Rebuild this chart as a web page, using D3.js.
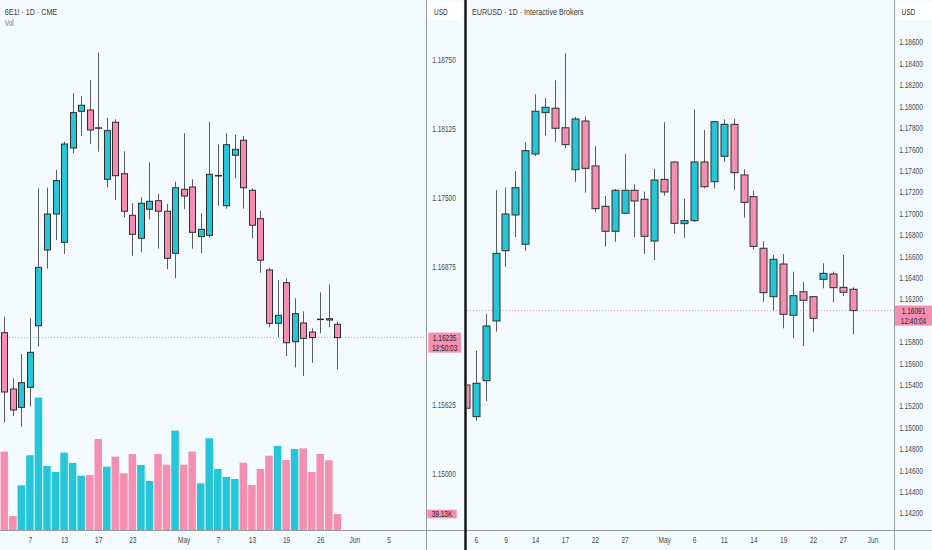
<!DOCTYPE html>
<html>
<head>
<meta charset="utf-8">
<script src="https://cdn.jsdelivr.net/npm/d3@7"></script>
<style>
  html, body { margin: 0; padding: 0; background: #f4fbfe; }
  svg { display: block; font-family: "Liberation Sans", Arial, sans-serif; }
</style>
</head>
<body>
<script>
// ---- 6E1! · 1D · CME (left) ----
const leftOpen  = [1.16280, 1.15770, 1.15604, 1.15785, 1.16343, 1.17029, 1.17355, 1.17099, 1.17953, 1.18285,
                   1.18297, 1.18136, 1.17669, 1.18186, 1.17720, 1.17343, 1.17135, 1.17398, 1.17476, 1.17380,
                   1.16999, 1.17579, 1.17600, 1.17150, 1.17162, 1.17700, 1.17430, 1.17887, 1.18023, 1.17570,
                   1.17313, 1.16848, 1.16365, 1.16733, 1.16198, 1.16368, 1.16286, 1.16403, 1.16407, 1.16356];
const leftHigh  = [1.16425, 1.15867, 1.16087, 1.16410, 1.17588, 1.17593, 1.17754, 1.18010, 1.18448, 1.18424,
                   1.18569, 1.18816, 1.18225, 1.18213, 1.17923, 1.17452, 1.17506, 1.17823, 1.17539, 1.17446,
                   1.17648, 1.18086, 1.17669, 1.17361, 1.18191, 1.17986, 1.18086, 1.18073, 1.18062, 1.17588,
                   1.17385, 1.16869, 1.16757, 1.16773, 1.16591, 1.16474, 1.16320, 1.16646, 1.16718, 1.16380];
const leftLow   = [1.15465, 1.15525, 1.15428, 1.15610, 1.16153, 1.16860, 1.17120, 1.16993, 1.17905, 1.18062,
                   1.17989, 1.17919, 1.17597, 1.17482, 1.17325, 1.16977, 1.17008, 1.17307, 1.17041, 1.16854,
                   1.16773, 1.17398, 1.17041, 1.16999, 1.17140, 1.17430, 1.17403, 1.17678, 1.17403, 1.17135,
                   1.16823, 1.16329, 1.16238, 1.16069, 1.15966, 1.15888, 1.16008, 1.16274, 1.16329, 1.15948];
const leftClose = [1.15743, 1.15580, 1.15827, 1.16102, 1.16872, 1.17355, 1.17657, 1.17989, 1.18273, 1.18340,
                   1.18116, 1.18132, 1.18110, 1.17702, 1.17380, 1.17171, 1.17452, 1.17470, 1.17380, 1.16954,
                   1.17593, 1.17518, 1.17189, 1.17216, 1.17715, 1.17704, 1.17983, 1.17941, 1.17593, 1.17253,
                   1.16936, 1.16365, 1.16437, 1.16189, 1.16452, 1.16229, 1.16235, 1.16399, 1.16395, 1.16235];
// volume in thousands of contracts
const leftVolume = [191.5, 34.2, 109.3, 182.7, 323.6, 156.5, 141.9, 189.1, 163.9, 132.8,
                    134.5, 222.6, 154.8, 179.3, 138.7, 185.9, 159.0, 119.9, 185.9, 159.7,
                    242.9, 159.7, 191.5, 114.2, 224.3, 149.2, 129.6, 124.7, 164.6, 110.1,
                    149.2, 181.7, 205.5, 171.2, 198.1, 199.8, 141.9, 185.9, 170.5, 39.13];
const leftTimeTicks  = [3, 7, 11, 15, 21, 25, 29, 33, 37, 41, 45];
const leftTimeLabels = ['7', '13', '17', '23', 'May', '7', '13', '19', '26', 'Jun', '5'];
const leftPriceTicks = [1.15000, 1.15625, 1.16875, 1.17500, 1.18125, 1.18750];
const leftLast = { price: '1.16235', timer: '12:50:03', volume: '39.13K' };

// ---- EURUSD · 1D · Interactive Brokers (right) ----
const rightOpen  = [1.15396, 1.15100, 1.15436, 1.15994, 1.16650, 1.16984, 1.16710, 1.17554, 1.17940, 1.17981,
                    1.17799, 1.17407, 1.17862, 1.17442, 1.17065, 1.16832, 1.17000, 1.17215, 1.17131, 1.16741,
                    1.17317, 1.17479, 1.16903, 1.16931, 1.17479, 1.17295, 1.17532, 1.17831, 1.17358, 1.17155,
                    1.16673, 1.16221, 1.16526, 1.16047, 1.16267, 1.16221, 1.16383, 1.16433, 1.16308, 1.16290];
const rightHigh  = [1.15442, 1.15716, 1.16056, 1.17217, 1.17239, 1.17395, 1.17663, 1.18111, 1.18077, 1.18242,
                    1.18494, 1.17902, 1.17906, 1.17628, 1.17161, 1.17227, 1.17551, 1.17271, 1.17202, 1.17414,
                    1.17850, 1.17486, 1.17136, 1.17969, 1.17778, 1.17865, 1.17878, 1.17881, 1.17411, 1.17211,
                    1.16738, 1.16610, 1.16620, 1.16454, 1.16358, 1.16227, 1.16533, 1.16454, 1.16610, 1.16308];
const rightLow   = [1.15143, 1.15062, 1.15246, 1.15894, 1.16501, 1.16776, 1.16650, 1.17535, 1.17725, 1.17669,
                    1.17607, 1.17295, 1.17192, 1.17012, 1.16688, 1.16734, 1.16993, 1.16776, 1.16620, 1.16563,
                    1.17164, 1.16813, 1.16772, 1.16918, 1.17233, 1.17230, 1.17482, 1.17217, 1.16959, 1.16663,
                    1.16174, 1.16090, 1.15925, 1.15832, 1.15760, 1.15888, 1.16299, 1.16168, 1.16227, 1.15869];
const rightClose = [1.15178, 1.15412, 1.15947, 1.16626, 1.16993, 1.17239, 1.17585, 1.17953, 1.17990, 1.17794,
                    1.17641, 1.17881, 1.17420, 1.17043, 1.16832, 1.17215, 1.17215, 1.17115, 1.16785, 1.17311,
                    1.17199, 1.16906, 1.16931, 1.17479, 1.17248, 1.17855, 1.17831, 1.17379, 1.17102, 1.16691,
                    1.16258, 1.16570, 1.16056, 1.16230, 1.16187, 1.16019, 1.16439, 1.16305, 1.16262, 1.16091];
const rightTimeTicks  = [1, 4, 7, 10, 13, 16, 20, 23, 26, 29, 32, 35, 38, 41];
const rightTimeLabels = ['6', '9', '14', '17', '22', '27', 'May', '6', '11', '14', '19', '22', '27', 'Jun'];
const rightPriceTicks = [1.14200, 1.14400, 1.14600, 1.14800, 1.15000, 1.15200, 1.15400, 1.15600, 1.15800,
                         1.16200, 1.16400, 1.16600, 1.16800, 1.17000, 1.17200, 1.17400, 1.17600, 1.17800,
                         1.18000, 1.18200, 1.18400, 1.18600];
const rightLast = { price: '1.16091', timer: '12:40:04' };

const W = 932, H = 550;
const UP = '#26c6da', DOWN = '#f48fb1', BORDER = '#2e2e2e', WICK = '#5c5c5c';
const LINE = '#9a9a9a', TEXT = '#4a4a4a', SX = 0.77;

const svg = d3.select('body').append('svg').attr('width', W).attr('height', H);
svg.append('rect').attr('width', W).attr('height', H).attr('fill', '#f4fbfe');

function txt(g, x, y, s, size, color, anchor) {
  return g.append('text')
    .attr('transform', 'translate(' + x + ',' + y + ') scale(' + SX + ',1)')
    .attr('dy', '0.35em')
    .attr('text-anchor', anchor || 'start')
    .style('font-size', size + 'px')
    .style('fill', color)
    .text(s);
}

function toRows(o, h, l, c) {
  return o.map((v, i) => ({ i: i, o: v, h: h[i], l: l[i], c: c[i], up: c[i] >= v }));
}

function drawCandles(g, rows, x, y, bodyW) {
  g.selectAll('line.wick').data(rows).enter().append('line')
    .attr('class', 'wick')
    .attr('x1', d => Math.round(x(d.i)) + 0.5).attr('x2', d => Math.round(x(d.i)) + 0.5)
    .attr('y1', d => y(d.h)).attr('y2', d => y(d.l))
    .attr('stroke', WICK).attr('stroke-width', 1);
  g.selectAll('rect.body').data(rows).enter().append('rect')
    .attr('class', 'body')
    .attr('x', d => Math.round(x(d.i)) + 0.5 - bodyW / 2)
    .attr('y', d => y(Math.max(d.o, d.c)))
    .attr('width', bodyW)
    .attr('height', d => Math.max(0.5, Math.abs(y(d.o) - y(d.c))))
    .attr('fill', d => d.up ? UP : DOWN)
    .attr('stroke', BORDER).attr('stroke-width', 1);
}

function priceAxis(axisX, y, ticks) {
  const g = svg.append('g').attr('transform', 'translate(' + axisX + ',0)')
    .call(d3.axisRight(y).tickValues(ticks).tickFormat(d3.format('.5f')).tickSize(0));
  g.select('.domain').remove();
  g.selectAll('text')
    .attr('x', null).attr('dy', '0.35em')
    .attr('transform', 'translate(17,0) scale(' + SX + ',1)')
    .attr('text-anchor', 'middle')
    .style('font-size', '8.5px').style('font-family', 'inherit').style('fill', TEXT);
  return g;
}

function timeAxis(x, ticks, labels) {
  const g = svg.append('g').attr('transform', 'translate(0,530)')
    .call(d3.axisBottom(x).tickValues(ticks).tickFormat((d, i) => labels[i]).tickSize(0));
  g.select('.domain').remove();
  g.selectAll('text')
    .attr('y', null).attr('dy', '0.35em')
    .attr('transform', 'translate(0,10) scale(' + SX + ',1)')
    .style('font-size', '8.5px').style('font-family', 'inherit').style('fill', TEXT);
  return g;
}

function lastLabel(x0, x1, yc, price, timer) {
  svg.append('rect').attr('x', x0).attr('y', yc - 5).attr('width', x1 - x0).attr('height', 20)
    .attr('fill', DOWN);
  txt(svg, (x0 + x1) / 2, yc, price, 8.5, '#2a2a2a', 'middle');
  txt(svg, (x0 + x1) / 2, yc + 10, timer, 8.5, '#2a2a2a', 'middle');
}

// ---------- left panel ----------
const xL = d3.scaleLinear().domain([0, 39]).range([4.3, 337.3]);
const yL = d3.scaleLinear().domain([1.15000, 1.18750]).range([474, 60]);
const yVol = d3.scaleLinear().domain([0, 400]).range([530, 366.4]);
const stepL = xL(1) - xL(0);
const rowsL = toRows(leftOpen, leftHigh, leftLow, leftClose);

const gL = svg.append('g');
gL.selectAll('rect.vol').data(rowsL).enter().append('rect')
  .attr('class', 'vol')
  .attr('x', d => xL(d.i) - (stepL - 1) / 2)
  .attr('y', d => yVol(leftVolume[d.i]))
  .attr('width', stepL - 1)
  .attr('height', d => yVol(0) - yVol(leftVolume[d.i]))
  .attr('fill', d => d.up ? UP : DOWN);

const lastL = leftClose[leftClose.length - 1];
gL.append('line').attr('x1', 0).attr('x2', 426.5)
  .attr('y1', yL(lastL)).attr('y2', yL(lastL))
  .attr('stroke', '#d8a6b6').attr('stroke-dasharray', '1,2');

drawCandles(gL, rowsL, xL, yL, Math.round(stepL * 0.7));

txt(svg, 4.7, 11.7, '6E1! · 1D · CME', 9.3, '#3a3a3a');
txt(svg, 4.7, 23.3, 'Vol', 8.5, '#777');

priceAxis(427, yL, leftPriceTicks);
timeAxis(xL, leftTimeTicks, leftTimeLabels);
lastLabel(428.3, 461, yL(lastL), leftLast.price, leftLast.timer);

const lastVol = leftVolume[leftVolume.length - 1];
svg.append('rect').attr('x', 427.3).attr('y', yVol(lastVol) - 4.3).attr('width', 29.4).attr('height', 8.6)
  .attr('fill', DOWN);
txt(svg, 442, yVol(lastVol), leftLast.volume, 8.5, '#2a2a2a', 'middle');

svg.append('rect').attr('x', 428).attr('y', 2).attr('width', 34).attr('height', 18).attr('fill', '#fff');
txt(svg, 434, 12, 'USD', 8.5, '#333');

// ---------- right panel ----------
const xR = d3.scaleLinear().domain([0, 39]).range([465.8, 852.7]);
const yR = d3.scaleLinear().domain([1.14200, 1.18600]).range([513, 42]);
const stepR = xR(1) - xR(0);
const rowsR = toRows(rightOpen, rightHigh, rightLow, rightClose);

svg.append('clipPath').attr('id', 'clipR')
  .append('rect').attr('x', 467).attr('y', 0).attr('width', 427).attr('height', 530);
const gR = svg.append('g').attr('clip-path', 'url(#clipR)');

const lastR = rightClose[rightClose.length - 1];
gR.append('line').attr('x1', 467).attr('x2', 894)
  .attr('y1', yR(lastR)).attr('y2', yR(lastR))
  .attr('stroke', '#d8a6b6').attr('stroke-dasharray', '1,2');

drawCandles(gR, rowsR, xR, yR, Math.round(stepR * 0.7));

txt(svg, 472, 11.7, 'EURUSD · 1D · Interactive Brokers', 9.3, '#3a3a3a');

priceAxis(894, yR, rightPriceTicks);
timeAxis(xR, rightTimeTicks, rightTimeLabels);
lastLabel(895, 932, yR(lastR), rightLast.price, rightLast.timer);

svg.append('rect').attr('x', 896.7).attr('y', 2).attr('width', 36).attr('height', 18).attr('fill', '#fff');
txt(svg, 901.5, 12, 'USD', 8.5, '#333');

// ---------- frame lines ----------
svg.append('line').attr('x1', 0).attr('x2', W).attr('y1', 530.5).attr('y2', 530.5)
  .attr('stroke', LINE).attr('stroke-width', 1);
svg.append('line').attr('x1', 426.5).attr('x2', 426.5).attr('y1', 0).attr('y2', H)
  .attr('stroke', LINE).attr('stroke-width', 1);
svg.append('line').attr('x1', 894.5).attr('x2', 894.5).attr('y1', 0).attr('y2', H)
  .attr('stroke', LINE).attr('stroke-width', 1);
svg.append('rect').attr('x', 464.3).attr('y', 0).attr('width', 2.4).attr('height', H).attr('fill', '#111');
</script>
</body>
</html>
